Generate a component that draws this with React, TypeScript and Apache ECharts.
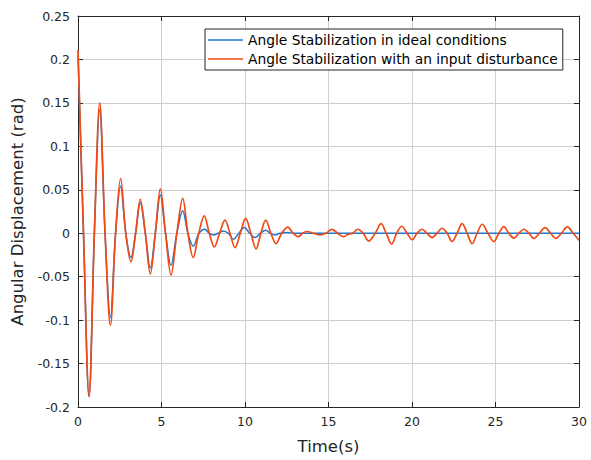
import React, { useEffect, useRef } from "react";
import * as echarts from "echarts";

const seriesNames = [
  "Angle Stabilization in ideal conditions",
  "Angle Stabilization with an input disturbance",
];

// Ideal conditions (blue) — peaks and zero crossings
const idealTime = [
  0, 0.33, 0.66, 0.98, 1.3, 1.62, 1.94, 2.25, 2.55, 2.86, 3.17, 3.45, 3.73, 4.03,
  4.33, 4.63, 4.93, 5.24, 5.57, 5.92, 6.27, 6.58, 6.9, 7.25, 7.6, 7.85, 8.1, 8.4,
  8.7, 9.0, 9.3, 9.63, 9.96, 10.28, 10.6, 10.92, 11.24, 11.52, 11.8, 12.1, 12.5,
  13, 15, 20, 25, 30,
];
const idealValues = [
  0.205, 0, -0.188, 0, 0.142, 0, -0.097, 0, 0.054, 0, -0.028, 0, 0.035, 0,
  -0.04, 0, 0.044, 0, -0.037, 0, 0.026, 0, -0.015, 0, 0.0046, 0, -0.002, 0,
  0.0027, 0, -0.007, 0, 0.0065, 0, -0.005, 0, 0.0034, 0, -0.002, 0, 0.0008,
  0, 0, 0, 0, 0,
];

// With input disturbance (orange)
const disturbTime = [
  0, 0.33, 0.66, 0.98, 1.3, 1.62, 1.94, 2.25, 2.55, 2.86, 3.17, 3.45, 3.73, 4.03,
  4.33, 4.63, 4.93, 5.24, 5.57, 5.92, 6.27, 6.58, 6.9, 7.23, 7.56, 7.86, 8.16,
  8.48, 8.8, 9.1, 9.4, 9.72, 10.04, 10.35, 10.66, 10.95, 11.24, 11.55, 11.86,
  12.2, 12.56, 12.88, 13.2, 13.45, 13.7, 14.1, 14.5, 14.85, 15.2, 15.55, 15.9,
  16.15, 16.45, 16.75, 17.08, 17.4, 17.8, 18.15, 18.45, 18.78, 19.08, 19.38,
  19.7, 20.02, 20.3, 20.6, 20.9, 21.2, 21.5, 21.8, 22.1, 22.4, 22.7, 23.0, 23.3,
  23.6, 23.9, 24.2, 24.55, 24.9, 25.2, 25.5, 25.8, 26.1, 26.4, 26.7, 27.0, 27.3,
  27.63, 27.96, 28.3, 28.6, 28.95, 29.3, 29.65, 30,
];
const disturbValues = [
  0.211, 0, -0.188, 0, 0.15, 0, -0.106, 0, 0.063, 0, -0.033, 0, 0.039, 0,
  -0.047, 0, 0.051, 0, -0.048, 0, 0.04, 0, -0.028, 0, 0.02, 0, -0.0157,
  0, 0.015, 0, -0.0165, 0, 0.017, 0, -0.018, 0, 0.015, 0, -0.012,
  0, 0.007, 0, -0.004, 0, 0.002, 0, -0.002, 0, 0.0045, 0, -0.004,
  -0.0015, 0, 0.0046, 0, -0.009, 0, 0.011, 0, -0.0125, 0, 0.008,
  0, -0.0075, 0, 0.0046, 0, -0.005, 0, 0.0057, 0, -0.0095, 0, 0.011, 0,
  -0.012, 0, 0.0103, 0, -0.0095, 0, 0.0077, 0, -0.0057, 0, 0.0046, 0, -0.006,
  0, 0.0065, 0, -0.006, 0, 0.0072, 0, -0.008,
];

const xMin = 0, xMax = 30, xInterval = 5;
const yMin = -0.2, yMax = 0.25, yInterval = 0.05;

const FONT = "DejaVu Sans";
const AXIS_COLOR = "#262626";
const GRID_COLOR = "#cfcfcf";
const BLUE = "#1f77d0";
const ORANGE = "#f04b16";

export default function App() {
  const ref = useRef<HTMLDivElement>(null);
  useEffect(() => {
    if (!ref.current) return;
    const chart = echarts.init(ref.current, null, { renderer: "svg" });
    const zip = (t: number[], v: number[]) => t.map((x, i) => [x, v[i]]);
    const tickCommon = { show: true, inside: true, length: 5, lineStyle: { color: AXIS_COLOR, width: 1 } };
    const lineCommon = { show: true, onZero: false, lineStyle: { color: AXIS_COLOR, width: 1 } };
    chart.setOption({
      animation: false,
      backgroundColor: "#ffffff",
      textStyle: { fontFamily: FONT },
      grid: { left: 78, right: 12, top: 16, bottom: 51, containLabel: false },
      legend: {
        orient: "vertical",
        left: 205,
        top: 29,
        icon: "rect",
        itemWidth: 35,
        itemHeight: 1.5,
        itemGap: 3,
        padding: [3, 5, 3, 3],
        backgroundColor: "#ffffff",
        borderColor: AXIS_COLOR,
        borderWidth: 1,
        borderRadius: 0,
        textStyle: { fontFamily: FONT, fontSize: 13.8, color: "#000000", lineHeight: 16 },
        data: [
          { name: seriesNames[0], itemStyle: { color: BLUE } },
          { name: seriesNames[1], itemStyle: { color: ORANGE } },
        ],
      },
      xAxis: [
        {
          type: "value",
          min: xMin,
          max: xMax,
          interval: xInterval,
          name: "Time(s)",
          nameLocation: "middle",
          nameGap: 31,
          nameTextStyle: { fontFamily: FONT, fontSize: 16.5, color: AXIS_COLOR },
          axisLine: lineCommon,
          axisTick: tickCommon,
          axisLabel: { fontFamily: FONT, fontSize: 12.5, color: AXIS_COLOR, margin: 8 },
          splitLine: { show: true, lineStyle: { color: GRID_COLOR, width: 1 } },
        },
        {
          type: "value",
          position: "top",
          min: xMin,
          max: xMax,
          interval: xInterval,
          axisLine: lineCommon,
          axisTick: tickCommon,
          axisLabel: { show: false },
          splitLine: { show: false },
        },
      ],
      yAxis: [
        {
          type: "value",
          min: yMin,
          max: yMax,
          interval: yInterval,
          name: "Angular Displacement (rad)",
          nameLocation: "middle",
          nameGap: 52,
          nameTextStyle: { fontFamily: FONT, fontSize: 16.5, color: AXIS_COLOR },
          axisLine: lineCommon,
          axisTick: tickCommon,
          axisLabel: { fontFamily: FONT, fontSize: 12.5, color: AXIS_COLOR, margin: 8 },
          splitLine: { show: true, lineStyle: { color: GRID_COLOR, width: 1 } },
        },
        {
          type: "value",
          position: "right",
          min: yMin,
          max: yMax,
          interval: yInterval,
          axisLine: lineCommon,
          axisTick: tickCommon,
          axisLabel: { show: false },
          splitLine: { show: false },
        },
      ],
      series: [
        {
          name: seriesNames[0],
          type: "line",
          data: zip(idealTime, idealValues),
          smooth: 0.35,
          symbol: "none",
          lineStyle: { color: BLUE, width: 1.5 },
          itemStyle: { color: BLUE },
          z: 2,
        },
        {
          name: seriesNames[1],
          type: "line",
          data: zip(disturbTime, disturbValues),
          smooth: 0.35,
          symbol: "none",
          lineStyle: { color: ORANGE, width: 1.7 },
          itemStyle: { color: ORANGE },
          z: 3,
        },
      ],
    });
    return () => chart.dispose();
  }, []);
  return (
    <div
      ref={ref}
      style={{ position: "fixed", left: 0, top: 0, width: 591, height: 460 }}
    />
  );
}
